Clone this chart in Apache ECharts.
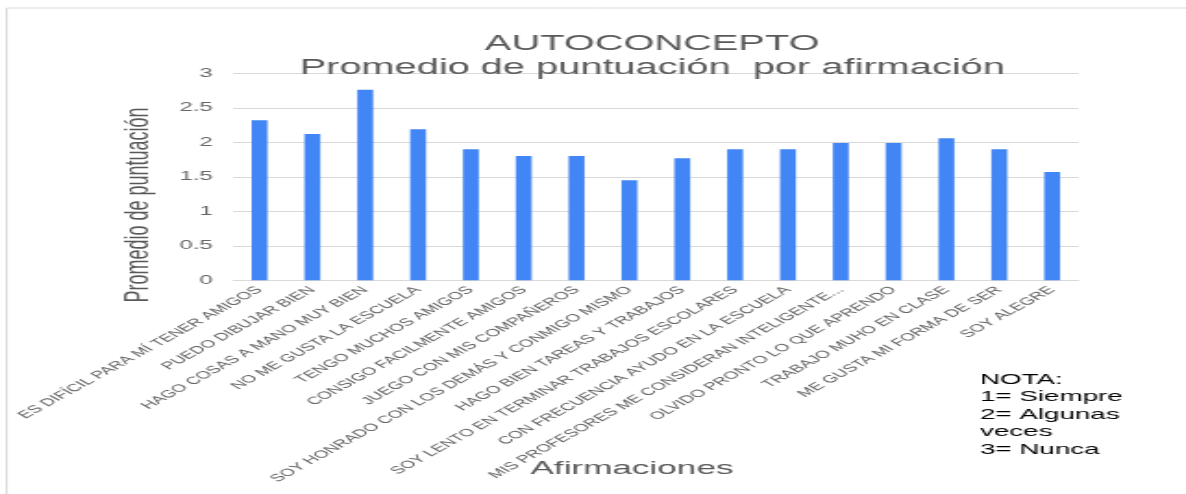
<!DOCTYPE html>
<html>
<head>
<meta charset="utf-8">
<script src="https://cdn.jsdelivr.net/npm/echarts@6/dist/echarts.min.js"></script>
<style>
  html, body { margin: 0; padding: 0; background: #fff; overflow: hidden; }
  /* el gráfico original está estirado a lo ancho: se dibuja estrecho y se escala */
  #chart { width: 641px; height: 494px; transform: scaleX(1.85); transform-origin: 0 0; }
</style>
</head>
<body>
<div id="chart"></div>
<script>
// Afirmaciones (eje X)
const afirmaciones = [
  'ES DIFÍCIL PARA MÍ TENER AMIGOS',
  'PUEDO DIBUJAR BIEN',
  'HAGO COSAS A MANO MUY BIEN',
  'NO ME GUSTA LA ESCUELA',
  'TENGO MUCHOS AMIGOS',
  'CONSIGO FACILMENTE AMIGOS',
  'JUEGO CON MIS COMPAÑEROS',
  'SOY HONRADO CON LOS DEMÁS Y CONMIGO MISMO',
  'HAGO BIEN TAREAS Y TRABAJOS',
  'SOY LENTO EN TERMINAR TRABAJOS ESCOLARES',
  'CON FRECUENCIA AYUDO EN LA ESCUELA',
  'MIS PROFESORES ME CONSIDERAN INTELIGENTE...',
  'OLVIDO PRONTO LO QUE APRENDO',
  'TRABAJO MUHO EN CLASE',
  'ME GUSTA MI FORMA DE SER',
  'SOY ALEGRE'
]
// Promedio de puntuación por afirmación
const promedios = [2.32, 2.12, 2.76, 2.19, 1.90, 1.80, 1.80, 1.45, 1.77, 1.90, 1.90, 1.99, 1.99, 2.06, 1.90, 1.57]
// Escala del eje Y
const yMin = 0
const yMax = 3
const yInterval = 0.5
// Nota
const nota = ['NOTA:', '1= Siempre', '2= Algunas', 'veces', '3= Nunca']

const fontFamily = 'Liberation Sans, Arial, sans-serif'
const chart = echarts.init(document.getElementById('chart'))
chart.setOption({
  animation: false,
  title: {
    text: 'AUTOCONCEPTO\nPromedio de puntuación  por afirmación',
    left: 347.5,
    top: 27.5,
    textAlign: 'center',
    textStyle: { fontFamily, fontSize: 21.5, fontWeight: 'normal', color: '#595959', lineHeight: 23.5 }
  },
  grid: { left: 126, right: 58, top: 73.3, bottom: 213.7 },
  xAxis: {
    type: 'category',
    data: afirmaciones,
    axisTick: { show: false },
    axisLine: { lineStyle: { color: '#d9d9d9' } },
    axisLabel: { interval: 0, rotate: 45, margin: 8, fontFamily, fontSize: 10.5, color: '#5f5f5f' }
  },
  yAxis: {
    type: 'value',
    min: yMin,
    max: yMax,
    interval: yInterval,
    axisLabel: { margin: 11, fontFamily, fontSize: 13, color: '#666666' },
    splitLine: { lineStyle: { color: '#d9d9d9' } }
  },
  series: [{
    type: 'bar',
    data: promedios,
    barWidth: '30%',
    itemStyle: { color: '#4285F4' }
  }],
  graphic: [
    // marco del gráfico
    { type: 'rect', shape: { x: 3.6, y: 8, width: 700, height: 600 }, style: { fill: 'none', stroke: '#d9d9d9', lineWidth: 1 }, silent: true },
    // título del eje Y
    {
      type: 'text', x: 74.6, y: 205, rotation: Math.PI / 2,
      style: { text: 'Promedio de puntuación', fontFamily, fontSize: 18, fill: '#595959', align: 'center', verticalAlign: 'middle' }
    },
    // título del eje X
    {
      type: 'text', x: 341.6, y: 469,
      style: { text: 'Afirmaciones', fontFamily, fontSize: 19, fill: '#595959', align: 'center', verticalAlign: 'middle' }
    },
    // nota
    {
      type: 'text', x: 529.7, y: 371,
      style: { text: nota.join('\n'), fontFamily, fontSize: 15, lineHeight: 17.5, fill: '#000000' }
    }
  ]
})
</script>
</body>
</html>
